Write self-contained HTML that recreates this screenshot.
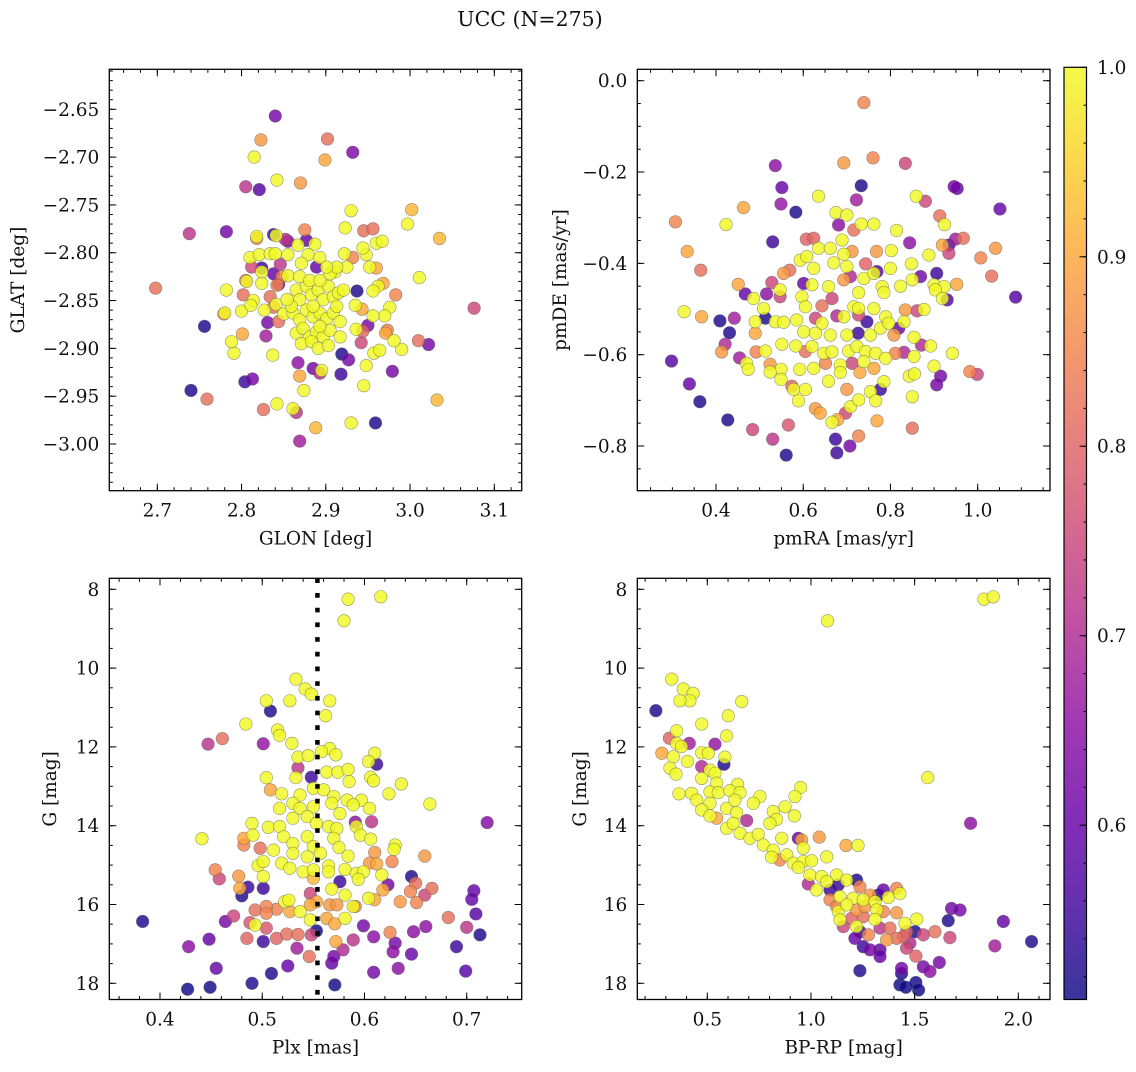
<!DOCTYPE html>
<html><head><meta charset="utf-8"><style>
html,body{margin:0;padding:0;background:#fff;}
svg text{font-family:"DejaVu Serif","Liberation Serif",serif;fill:#111;}
</style></head><body>
<svg id="fig" width="1136" height="1067" viewBox="0 0 1136 1067" xmlns="http://www.w3.org/2000/svg">
<text x="530" y="26" text-anchor="middle" font-size="20.5">UCC (N=275)</text>
</svg>
<script>
// ---------- Panel A: GLON vs GLAT ----------
const glon=[2.840,2.823,2.902,2.932,2.815,2.899,2.805,2.821,2.842,2.870,2.930,3.002,2.997,2.738,2.782,2.923,2.945,2.956,3.035,2.698,3.076,2.756,2.740,2.759,2.804,2.813,2.826,2.842,2.861,2.865,2.869,2.888,2.930,2.959,3.032,2.874,2.869,2.867,2.918,2.945,2.948,2.979,2.837,2.791,2.788,2.801,2.829,2.831,3.010,3.022,2.990,2.981,2.942,2.950,3.011,2.983,2.937,
2.885,2.893,2.895,2.919,2.927,2.957,2.964,2.844,2.973,2.971,2.936,2.944,2.968,2.962,2.956,2.976,2.970,2.956,2.935,2.943,2.952,2.960,2.948,2.944,2.960,2.967,2.932,2.922,2.925,2.911,2.887,2.877,2.867,2.855,2.852,2.838,2.841,2.818,2.818,2.810,2.821,2.834,2.840,2.855,2.879,2.893,2.812,2.824,2.824,2.846,2.838,2.848,2.855,2.871,2.889,2.805,2.806,2.824,2.782,2.802,2.814,2.834,2.844,2.842,2.779,2.780,2.800,2.811,2.827,2.838,2.841,2.850,2.875,
2.865,2.869,2.877,2.883,2.891,2.897,2.903,2.909,2.915,2.921,2.869,2.881,2.893,2.905,2.913,2.901,2.861,2.869,2.877,2.885,2.893,2.901,2.909,2.917,2.865,2.873,2.881,2.889,2.897,2.905,2.871,2.883,2.891,2.903,2.859,2.913,2.854,2.885,2.893,2.917];
const glat=[-2.657,-2.682,-2.681,-2.695,-2.700,-2.703,-2.731,-2.734,-2.724,-2.727,-2.756,-2.755,-2.770,-2.780,-2.778,-2.774,-2.777,-2.775,-2.785,-2.837,-2.858,-2.877,-2.944,-2.953,-2.935,-2.932,-2.964,-2.958,-2.963,-2.967,-2.997,-2.983,-2.978,-2.978,-2.954,-2.944,-2.929,-2.915,-2.927,-2.939,-2.918,-2.924,-2.907,-2.905,-2.893,-2.885,-2.887,-2.873,-2.892,-2.896,-2.901,-2.892,-2.894,-2.876,-2.826,-2.844,-2.840,
-2.921,-2.926,-2.923,-2.906,-2.912,-2.905,-2.902,-2.872,-2.881,-2.884,-2.880,-2.882,-2.832,-2.835,-2.840,-2.857,-2.866,-2.866,-2.855,-2.859,-2.815,-2.816,-2.802,-2.795,-2.790,-2.788,-2.805,-2.801,-2.815,-2.820,-2.791,-2.787,-2.792,-2.788,-2.786,-2.781,-2.782,-2.783,-2.785,-2.805,-2.802,-2.801,-2.801,-2.802,-2.802,-2.805,-2.815,-2.816,-2.820,-2.812,-2.822,-2.825,-2.824,-2.811,-2.815,-2.829,-2.830,-2.832,-2.839,-2.844,-2.850,-2.846,-2.833,-2.834,-2.864,-2.863,-2.861,-2.855,-2.860,-2.857,-2.854,-2.864,-2.776,
-2.839,-2.849,-2.835,-2.844,-2.839,-2.849,-2.835,-2.846,-2.842,-2.839,-2.825,-2.829,-2.829,-2.822,-2.815,-2.815,-2.863,-2.870,-2.860,-2.867,-2.863,-2.869,-2.863,-2.872,-2.884,-2.879,-2.888,-2.883,-2.888,-2.881,-2.895,-2.893,-2.900,-2.897,-2.856,-2.856,-2.849,-2.856,-2.877,-2.888];
const probA=[.62,.88,.82,.63,1,.9,.72,.58,1,.88,1,.92,1,.72,.62,1,.82,.82,.92,.82,.75,.52,.52,.82,.55,.62,.82,1,1,.72,.68,.92,1,.52,.92,1,.9,.65,.55,1,1,.62,1,1,1,.9,.68,.62,.82,.62,1,1,.75,.62,1,.85,.52,
.62,.7,1,.52,.62,1,1,.82,.85,.9,1,.8,.9,1,1,1,1,1,1,.9,1,.9,1,1,1,1,.85,1,1,1,1,.6,1,.62,.72,.55,1,1,.85,1,1,1,1,1,1,1,.75,.55,1,.72,.6,.85,1,1,.6,.82,1,1,1,.82,1,.82,.62,.85,.85,1,1,1,1,.82,1,1,.85,
1,1,1,1,1,1,1,1,1,1,1,1,1,1,1,1,1,1,1,1,1,1,1,1,1,1,1,1,1,1,1,1,1,1,1,1,1,1,1,1];

// ---------- Panel B: pmRA vs pmDE ----------
const pmra=[0.739,0.693,0.760,0.834,0.536,0.551,0.733,0.946,0.953,0.635,0.722,0.859,0.880,0.549,0.583,0.463,1.051,0.307,0.423,0.675,0.700,0.681,0.733,0.762,0.716,0.814,0.913,0.924,0.607,0.624,0.530,0.844,0.919,0.934,0.949,0.967,1.041,1.007,1.032,0.334,0.365,
0.635,0.662,0.689,0.693,0.712,0.768,0.802,0.888,0.934,0.593,0.608,0.624,0.670,0.700,0.743,0.769,0.800,0.848,0.906,0.869,0.451,0.528,0.555,0.569,0.601,0.620,0.658,0.693,0.708,0.739,0.762,0.781,0.823,0.850,0.900,0.923,0.952,
0.467,0.516,0.547,0.547,0.486,0.597,0.643,0.666,0.727,0.785,0.903,0.919,0.930,0.327,0.367,0.409,0.442,0.490,0.509,0.513,0.536,0.555,0.585,0.605,0.628,0.643,0.677,0.693,0.716,0.727,0.727,0.762,0.746,0.789,0.834,0.861,0.877,0.831,
0.431,0.490,0.601,0.628,0.662,0.700,0.726,0.754,0.777,0.808,0.819,0.854,0.796,0.421,0.413,0.492,0.513,0.551,0.583,0.605,0.620,0.647,0.666,0.704,0.723,0.743,0.766,0.811,0.831,0.854,0.871,0.892,0.942,
0.298,0.454,0.470,0.474,0.524,0.549,0.524,0.592,0.624,0.651,0.685,0.712,0.739,0.762,0.789,0.843,0.855,0.900,0.915,0.906,0.982,0.999,0.339,0.549,0.574,0.578,0.605,0.658,0.685,0.700,0.730,0.754,0.777,0.785,0.850,
0.363,0.589,0.628,0.639,0.697,0.708,0.727,0.766,0.666,0.679,0.769,0.427,0.484,0.566,0.530,0.674,0.677,0.707,0.727,0.561,0.850,1.087];
const pmde=[-0.048,-0.180,-0.169,-0.181,-0.186,-0.234,-0.230,-0.232,-0.236,-0.253,-0.261,-0.253,-0.264,-0.270,-0.288,-0.278,-0.281,-0.309,-0.315,-0.289,-0.294,-0.316,-0.314,-0.314,-0.327,-0.328,-0.296,-0.315,-0.347,-0.345,-0.353,-0.355,-0.360,-0.360,-0.347,-0.345,-0.367,-0.388,-0.428,-0.374,-0.415,
-0.367,-0.367,-0.349,-0.380,-0.374,-0.374,-0.372,-0.382,-0.378,-0.393,-0.385,-0.411,-0.399,-0.407,-0.401,-0.418,-0.411,-0.401,-0.422,-0.429,-0.446,-0.442,-0.422,-0.415,-0.444,-0.447,-0.451,-0.436,-0.429,-0.433,-0.422,-0.451,-0.450,-0.436,-0.447,-0.451,-0.446,
-0.467,-0.467,-0.458,-0.473,-0.477,-0.473,-0.493,-0.477,-0.464,-0.464,-0.458,-0.477,-0.480,-0.506,-0.517,-0.526,-0.520,-0.528,-0.499,-0.520,-0.528,-0.529,-0.524,-0.495,-0.520,-0.531,-0.515,-0.517,-0.495,-0.499,-0.513,-0.499,-0.528,-0.517,-0.502,-0.504,-0.501,-0.528,
-0.552,-0.553,-0.550,-0.553,-0.557,-0.557,-0.553,-0.557,-0.542,-0.557,-0.542,-0.562,-0.531,-0.577,-0.594,-0.594,-0.592,-0.577,-0.581,-0.593,-0.582,-0.597,-0.594,-0.592,-0.582,-0.593,-0.597,-0.597,-0.595,-0.604,-0.579,-0.581,-0.597,
-0.614,-0.607,-0.619,-0.632,-0.621,-0.632,-0.638,-0.632,-0.630,-0.619,-0.623,-0.619,-0.615,-0.630,-0.608,-0.647,-0.642,-0.625,-0.647,-0.666,-0.637,-0.643,-0.664,-0.654,-0.669,-0.676,-0.676,-0.658,-0.639,-0.676,-0.639,-0.681,-0.676,-0.659,-0.692,
-0.703,-0.701,-0.718,-0.728,-0.728,-0.714,-0.699,-0.701,-0.748,-0.742,-0.745,-0.743,-0.764,-0.754,-0.785,-0.785,-0.815,-0.800,-0.778,-0.820,-0.761,-0.474];
const probB=[.85,.88,.85,.75,.65,.6,.52,.62,.6,1,.68,1,.75,.66,.52,.9,.6,.85,1,1,1,.65,1,1,.82,1,.82,1,.8,.8,.55,.65,.9,.58,.68,.82,.88,.85,.82,.9,.82,
1,1,1,1,.88,.88,1,1,.75,1,1,1,1,1,.8,.58,1,1,.55,.62,.9,.75,.88,.82,.6,1,1,.88,.7,1,1,1,1,1,1,1,.9,
.6,.65,1,.75,1,1,.82,.75,1,1,1,1,.58,1,.9,.52,.68,1,1,.52,1,1,1,1,.75,1,.7,1,1,1,.75,1,.55,1,.88,.75,1,1,
.52,.9,1,1,1,1,.55,1,1,.88,.6,1,1,.7,.88,.85,1,1,1,.82,1,1,1,1,1,1,1,.85,.7,1,.7,1,1,
.58,.68,1,1,.88,1,1,1,1,.85,1,.75,1,.9,1,1,1,1,.62,.62,.85,.75,.6,1,.8,1,1,1,1,.88,.9,1,.55,1,1,
.52,1,.88,.9,.75,1,1,1,1,.9,.9,.52,.75,.78,.72,.55,.55,.62,.85,.52,.82,.58];

// ---------- Panel C: Plx vs G ----------
const plx=[0.584,0.616,0.580,0.533,0.542,0.548,0.566,0.504,0.527,0.508,0.562,0.484,0.515,0.517,0.529,0.447,0.461,0.501,0.566,0.558,0.572,0.535,0.545,0.610,0.604,0.612,0.535,0.548,0.504,0.533,0.563,0.574,0.584,0.585,0.606,0.609,0.636,
0.508,0.519,0.537,0.550,0.560,0.570,0.583,0.597,0.605,0.624,0.664,0.517,0.530,0.537,0.550,0.568,0.576,0.589,0.720,0.607,0.591,0.490,0.506,0.517,0.530,0.544,0.553,0.565,0.573,0.592,0.596,0.606,
0.441,0.482,0.491,0.482,0.498,0.511,0.521,0.530,0.544,0.550,0.570,0.575,0.530,0.544,0.557,0.584,0.610,0.630,0.629,0.659,0.496,0.501,0.519,0.527,0.540,0.550,0.565,0.565,0.581,0.605,0.612,0.627,
0.454,0.458,0.477,0.501,0.550,0.592,0.599,0.617,0.594,0.646,0.576,0.478,0.486,0.480,0.501,0.568,0.547,0.581,0.623,0.618,0.650,0.645,0.666,0.707,0.705,0.659,0.651,0.635,0.604,0.610,0.589,0.566,0.573,0.553,0.547,
0.522,0.526,0.537,0.527,0.514,0.504,0.504,0.493,0.472,0.464,0.488,0.493,0.504,0.485,0.501,0.514,0.524,0.535,0.548,0.553,0.547,0.563,0.571,0.581,0.591,0.599,0.609,0.625,0.630,0.628,0.648,0.660,0.682,0.700,0.709,0.713,0.690,0.699,
0.383,0.428,0.448,0.455,0.427,0.449,0.490,0.509,0.525,0.534,0.546,0.570,0.568,0.571,0.579,0.589,0.609,0.633,0.646,0.572];
const gmagC=[8.25,8.19,8.80,10.28,10.53,10.66,10.83,10.83,10.83,11.09,11.21,11.42,11.57,11.71,11.91,11.93,11.79,11.92,12.04,12.12,12.20,12.26,12.22,12.16,12.37,12.44,12.53,12.77,12.78,12.78,12.64,12.64,12.57,12.88,12.77,12.86,12.94,
13.09,13.19,13.22,13.05,13.09,13.26,13.35,13.35,13.56,13.19,13.45,13.56,13.43,13.56,13.52,13.43,13.69,13.47,13.92,13.90,13.91,13.94,14.04,14.02,13.81,13.77,13.94,14.02,14.07,14.02,14.24,14.34,
14.33,14.32,14.24,14.49,14.57,14.62,14.28,14.45,14.28,14.53,14.32,14.55,14.70,14.79,14.70,14.77,14.68,14.49,14.60,14.77,15.01,14.91,14.95,15.08,15.17,15.12,15.02,15.17,15.11,14.95,14.97,14.91,
15.12,15.35,15.28,15.29,15.33,15.21,15.17,15.25,15.36,15.29,15.42,15.59,15.56,15.78,15.59,15.61,15.72,15.76,15.50,15.63,15.46,15.67,15.59,15.65,15.87,15.76,15.95,15.93,15.84,15.88,16.05,16.01,16.01,15.93,16.01,
15.93,15.89,16.18,16.18,16.12,16.05,16.22,16.14,16.29,16.43,16.46,16.52,16.60,16.86,16.94,16.86,16.75,16.76,16.77,16.67,16.39,16.35,16.49,16.35,16.05,16.54,16.82,16.71,16.98,17.20,16.69,16.56,16.33,16.58,16.24,16.77,17.07,17.69,
16.43,17.07,16.88,17.62,18.15,18.10,18.00,17.75,17.56,17.11,17.32,17.32,17.49,18.04,17.15,16.90,17.72,17.62,17.26,16.94];
const probC=[1,1,1,1,1,1,1,1,1,.52,1,1,1,1,1,.72,.82,.66,1,1,1,1,1,1,1,.55,.72,.55,1,1,1,1,1,1,1,1,1,
.9,1,1,1,1,1,1,1,1,1,1,1,1,1,1,1,1,1,.64,.72,.65,1,1,1,1,1,1,1,1,1,1,1,
1,.9,1,.85,.82,1,1,1,1,1,1,1,1,1,1,1,.88,1,1,.88,1,1,1,1,1,1,1,1,1,.88,.9,.85,
.85,.75,.88,1,.92,1,1,1,1,.52,.55,.9,.55,.52,.55,1,.75,1,.62,.9,.82,.85,.82,.6,.6,.75,.85,.88,1,.9,1,.88,.88,.9,.9,
1,1,1,.9,.85,.85,.85,.82,.75,.62,.78,1,.78,.8,.55,.8,.82,.82,.75,.5,1,.9,.9,1,.85,.62,.65,.85,.62,.65,.65,.65,.82,.72,.58,.52,.55,.58,
.52,.65,.6,.6,.5,.5,.52,.52,.6,.68,.82,.62,.6,.5,.7,.72,.62,.65,.6,.9];

// ---------- Panel D: BP-RP vs G ----------
const bprp=[1.834,1.879,1.080,1.563,1.770,0.328,0.384,0.432,0.416,0.368,0.666,0.252,0.601,0.473,0.352,0.593,0.317,0.413,0.537,0.352,0.376,0.281,0.336,0.404,0.473,0.505,0.585,0.580,0.320,0.349,0.473,0.513,0.537,0.473,0.545,0.646,0.950,
0.363,0.424,0.513,0.553,0.609,0.658,0.754,0.923,0.449,0.513,0.593,0.633,0.722,0.473,0.513,0.545,0.641,0.690,0.818,0.875,0.920,0.834,0.802,0.593,0.625,0.658,0.706,0.746,0.770,0.859,0.939,0.955,1.040,1.169,1.227,
0.818,0.810,0.850,0.883,0.915,0.963,0.963,1.003,1.076,0.939,0.995,1.051,1.124,0.987,1.027,1.076,1.092,1.132,1.172,1.220,1.236,1.285,1.349,1.325,1.373,1.413,1.429,1.140,1.204,1.252,1.309,1.092,1.124,1.132,1.172,1.220,1.260,1.317,1.349,1.413,
1.140,1.196,1.252,1.309,1.453,1.510,1.156,1.220,1.236,1.277,1.333,1.381,1.461,1.502,1.542,1.598,1.670,1.678,1.719,1.662,1.928,1.887,2.064,1.212,1.252,1.285,1.333,1.333,1.365,1.413,1.445,1.461,1.477,1.506,1.542,1.574,1.619,1.437,1.437,1.236,1.429,1.458,1.506,1.519];
const gmagD=[8.25,8.19,8.80,12.78,13.94,10.28,10.53,10.64,10.83,10.83,10.85,11.08,11.21,11.42,11.59,11.72,11.78,11.91,11.93,11.91,11.99,12.16,12.25,12.37,12.15,12.16,12.26,12.44,12.54,12.69,12.50,12.59,12.67,12.80,12.92,12.95,13.03,
13.19,13.18,13.14,13.16,13.11,13.16,13.26,13.26,13.35,13.43,13.56,13.35,13.43,13.60,13.75,13.81,13.67,13.87,13.64,13.52,13.75,13.84,13.94,14.07,13.94,14.19,14.32,14.22,14.49,14.32,14.32,14.36,14.29,14.50,14.50,
14.62,14.80,14.87,14.74,14.95,14.57,14.91,14.89,14.79,15.06,15.25,15.29,15.25,15.48,15.63,15.42,15.63,15.50,15.38,15.38,15.55,15.76,15.63,15.76,15.82,15.59,15.72,15.80,15.84,15.88,15.93,15.88,16.05,16.18,16.01,16.14,16.05,16.14,16.18,16.21,
16.39,16.35,16.31,16.38,16.48,16.37,16.56,16.56,16.69,16.77,16.60,16.60,16.69,16.69,16.77,16.69,16.84,16.10,16.14,16.41,16.43,17.05,16.94,16.86,17.07,17.15,17.15,17.32,16.90,16.86,16.82,17.11,16.98,17.31,17.58,17.70,17.47,17.62,17.75,17.68,18.04,18.10,17.98,18.17];
const probD=[1,1,1,1,.65,1,1,1,1,1,1,.52,1,1,1,1,.8,.68,.66,1,1,.9,1,1,1,1,1,.52,1,1,.7,1,1,1,1,1,1,
1,1,1,1,1,1,1,1,1,1,1,1,1,1,1,.9,1,.7,1,1,1,1,1,1,1,1,1,1,1,1,.6,.9,.88,.9,1,
1,1,.85,1,1,1,1,1,1,1,1,1,1,.7,1,1,.55,.55,1,.52,.85,.88,.6,.52,1,.85,1,1,1,1,1,.85,.85,1,1,.88,.88,1,.85,.88,
1,.8,.82,1,1,1,.75,1,.55,.85,.72,.82,.8,.52,.75,.82,.75,.62,.62,.52,.6,.68,.52,.6,.55,.62,.6,.6,.88,.82,.8,.75,.7,.8,.62,.65,.62,.62,.52,.52,.5,.5,.5,.5];

// colorbar ticks
const cbarTicks=[0.6,0.7,0.8,0.9,1.0];
const vmin=0.508, vmax=1.0;
const plxLine=0.554;

const NS="http://www.w3.org/2000/svg";
const FS=18.5;
const svg=document.getElementById('fig');
function mk(tag,attrs,parent){const e=document.createElementNS(NS,tag);for(const k in attrs)e.setAttribute(k,attrs[k]);(parent||svg).appendChild(e);return e;}
const stops=[[13,8,135],[65,4,157],[106,0,168],[143,13,164],[177,42,144],[204,71,120],[225,100,98],[242,132,75],[252,166,54],[252,206,37],[240,249,33]];
function plasma(t){t=Math.max(0,Math.min(1,t));const s=t*10,i=Math.min(9,Math.floor(s)),f=s-i;const a=stops[i],b=stops[i+1];
 return 'rgb('+[0,1,2].map(k=>Math.round(a[k]+(b[k]-a[k])*f)).join(',')+')';}
function fmt(v,d){const s=Math.abs(v).toFixed(d);return (v<-1e-9?'\u2212':'')+s;}
function lin(d0,p0,d1,p1){return v=>p0+(v-d0)*(p1-p0)/(d1-d0);}

function panel(cfg){
 const g=mk('g',{});
 
 
 const X=lin(cfg.xa[0],cfg.xa[1],cfg.xb[0],cfg.xb[1]), Y=lin(cfg.ya[0],cfg.ya[1],cfg.yb[0],cfg.yb[1]);
 const [L,R,T,B]=cfg.frame;
 const clipId=cfg.name+'-clip';
 const cp=mk('clipPath',{id:clipId},g);mk('rect',{x:L,y:T,width:R-L,height:B-T},cp);
 const pts=mk('g',{'clip-path':'url(#'+clipId+')'},g);
 
 
 const n=Math.min(cfg.xs.length,cfg.ys.length,cfg.ps.length);
 const idx=[...Array(n).keys()].sort((a,b)=>cfg.ps[a]-cfg.ps[b]);
 for(const i of idx){
  const c=mk('circle',{cx:X(cfg.xs[i]).toFixed(2),cy:Y(cfg.ys[i]).toFixed(2),r:6.3,fill:plasma((cfg.ps[i]-vmin)/(vmax-vmin)),'fill-opacity':0.82,stroke:'#555','stroke-opacity':0.6,'stroke-width':0.6},pts);
  
  
 }
 if(cfg.vline!==undefined){
  const l=mk('line',{x1:X(cfg.vline),x2:X(cfg.vline),y1:T,y2:B,stroke:'#000','stroke-width':4.5,'stroke-dasharray':'4.7 10'},g);
  
  
 }
 const fr=mk('rect',{x:L,y:T,width:R-L,height:B-T,fill:'none',stroke:'#000','stroke-width':1.3},g);
 
 
 const tk=mk('g',{stroke:'#000','stroke-width':1},g);
 function tickRange(a,b,s,f){const N=Math.round((b-a)/s);for(let k=0;k<=N;k++)f(a+k*s);}
 tickRange(cfg.xmin[0],cfg.xmin[1],cfg.xmin[2],v=>{const x=X(v);if(x<L||x>R)return;mk('line',{x1:x,x2:x,y1:B,y2:B-3.5},tk);mk('line',{x1:x,x2:x,y1:T,y2:T+3.5},tk);});
 tickRange(cfg.ymin[0],cfg.ymin[1],cfg.ymin[2],v=>{const y=Y(v);if(y<T||y>B)return;mk('line',{x1:L,x2:L+3.5,y1:y,y2:y},tk);mk('line',{x1:R,x2:R-3.5,y1:y,y2:y},tk);});
 tickRange(cfg.xt[0],cfg.xt[1],cfg.xt[2],v=>{const x=X(v);mk('line',{x1:x,x2:x,y1:B,y2:B-7},tk);mk('line',{x1:x,x2:x,y1:T,y2:T+7},tk);
  const t=mk('text',{x:x,y:B+26,'text-anchor':'middle','font-size':FS},g);t.textContent=fmt(v,cfg.xd);
  
  });
 tickRange(cfg.yt[0],cfg.yt[1],cfg.yt[2],v=>{const y=Y(v);mk('line',{x1:L,x2:L+7,y1:y,y2:y},tk);mk('line',{x1:R,x2:R-7,y1:y,y2:y},tk);
  const t=mk('text',{x:L-10,y:y+6.5,'text-anchor':'end','font-size':FS},g);t.textContent=fmt(v,cfg.yd);
  
  });
 const xl=mk('text',{x:(L+R)/2,y:B+54,'text-anchor':'middle','font-size':FS},g);xl.textContent=cfg.xlabel;
 
 
 const yl=mk('text',{x:cfg.ylx,y:(T+B)/2,'text-anchor':'middle','font-size':FS,transform:'rotate(-90 '+cfg.ylx+' '+(T+B)/2+')'},g);yl.textContent=cfg.ylabel;
 
 
}

panel({name:'glon-glat-panel',xs:glon,ys:glat,ps:probA,frame:[109.3,521.7,69.3,490.7],
 xa:[2.7,157.3],xb:[3.1,494.3],ya:[-2.65,109.3],yb:[-3.0,444.0],
 xt:[2.7,3.1,0.1],xd:1,yt:[-3.0,-2.65,0.05],yd:2,xmin:[2.62,3.16,0.02],ymin:[-3.06,-2.60,0.01],
 xlabel:'GLON [deg]',ylabel:'GLAT [deg]',ylx:24});
panel({name:'pmra-pmde-panel',xs:pmra,ys:pmde,ps:probB,frame:[637.3,1050,69.3,490.7],
 xa:[0.4,716],xb:[1.0,977.7],ya:[0,80.7],yb:[-0.8,446],
 xt:[0.4,1.0,0.2],xd:1,yt:[-0.8,0,0.2],yd:1,xmin:[0.2,1.2,0.05],ymin:[-0.9,0.05,0.05],
 xlabel:'pmRA [mas/yr]',ylabel:'pmDE [mas/yr]',ylx:566});
panel({name:'plx-g-panel',xs:plx,ys:gmagC,ps:probC,frame:[109.3,521.7,578.3,999.5],
 xa:[0.4,160],xb:[0.7,466.7],ya:[8,589.3],yb:[18,983.3],
 xt:[0.4,0.7,0.1],xd:1,yt:[8,18,2],yd:0,xmin:[0.34,0.76,0.02],ymin:[7.5,18.5,0.5],
 xlabel:'Plx [mas]',ylabel:'G [mag]',ylx:56,vline:plxLine});
panel({name:'bprp-g-panel',xs:bprp,ys:gmagD,ps:probD,frame:[637.3,1050,578.3,999.5],
 xa:[0.5,707.3],xb:[2.0,1018.3],ya:[8,589.3],yb:[18,983.3],
 xt:[0.5,2.0,0.5],xd:1,yt:[8,18,2],yd:0,xmin:[0.1,2.2,0.1],ymin:[7.5,18.5,0.5],
 xlabel:'BP-RP [mag]',ylabel:'G [mag]',ylx:586});

// colorbar
(function(){
 const L=1064,R=1086.5,T=67.3,B=999.5;
 const CY=lin(vmin,B,vmax,T);
 const cb=mk('g',{});
 
 
 const defs=mk('defs',{},cb);
 const lg=mk('linearGradient',{id:'cbgrad',x1:0,y1:1,x2:0,y2:0},defs);
 for(let k=0;k<=20;k++){mk('stop',{offset:(k/20),'stop-color':plasma(k/20),'stop-opacity':0.82},lg);}
 const r=mk('rect',{x:L,y:T,width:R-L,height:B-T,fill:'url(#cbgrad)',stroke:'#000','stroke-width':1.2},cb);
 
 
 for(let v=0.52;v<=1.0001;v+=0.02){const y=CY(v);mk('line',{x1:R,x2:R-3,y1:y,y2:y,stroke:'#000','stroke-width':1},cb);}
 for(const v of cbarTicks){const y=CY(v);mk('line',{x1:R,x2:R-7,y1:y,y2:y,stroke:'#000','stroke-width':1},cb);
  const t=mk('text',{x:1097,y:y+6.5,'font-size':FS},cb);t.textContent=v.toFixed(1);
  
  }
})();
</script>
</body></html>
